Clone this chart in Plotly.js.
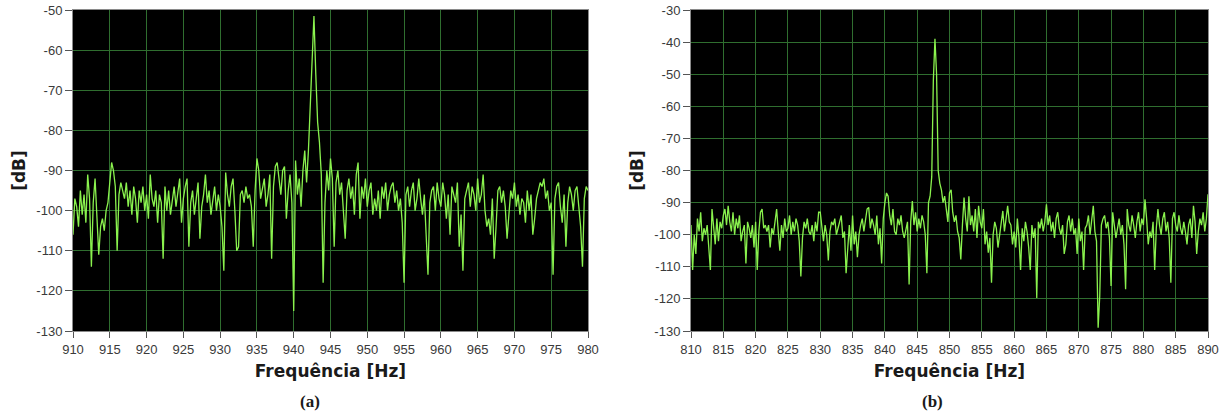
<!DOCTYPE html>
<html>
<head>
<meta charset="utf-8">
<script src="https://cdn.plot.ly/plotly-3.0.1.min.js"></script>
<style>
html,body{margin:0;padding:0;background:#fff;}
#chart{width:1224px;height:416px;}
</style>
</head>
<body>
<div id="chart"></div>
<script>
// Spectrum (a): 910 Hz .. 980 Hz, 0.25 Hz step
const freqStartA = 910;
const freqStepA = 0.25;
const dbA = [
  -106, -97, -99, -104,
  -95, -101, -96, -103,
  -91, -97, -114, -98,
  -92, -101, -111, -104,
  -102, -105, -100, -98,
  -93, -88, -90, -94,
  -110, -96, -93, -95,
  -97, -93, -99, -95,
  -101, -94, -97, -103,
  -95, -98, -94, -100,
  -96, -102, -91, -97,
  -99, -95, -103, -96,
  -98, -112, -94, -100,
  -95, -101, -97, -94,
  -99, -96, -92, -103,
  -97, -94, -92, -109,
  -98, -95, -101, -97,
  -93, -107, -99, -96,
  -91, -98, -95, -101,
  -97, -94, -100, -96,
  -99, -104, -115, -90.5,
  -96, -99, -94, -92,
  -100, -110, -109, -96,
  -95, -98, -94, -97,
  -96, -99, -109, -95,
  -87, -90, -97, -94,
  -92, -99, -96, -91,
  -112, -94, -89, -88,
  -93, -96, -90, -89,
  -102, -95, -91, -98,
  -125, -87.5, -96, -92,
  -99, -90, -85, -93,
  -85, -73, -59, -51.5,
  -66, -78, -83, -91,
  -118, -98, -90, -95,
  -87, -92, -109, -93,
  -90, -96, -93, -99,
  -107, -95, -92, -97,
  -94, -101, -91, -88,
  -102, -94, -97, -92,
  -99, -95, -93, -101,
  -97, -100, -95, -102,
  -94, -97, -93, -100,
  -96, -94, -93, -98,
  -95, -100, -97, -103,
  -118, -96, -94, -99,
  -95, -93, -100, -97,
  -92, -97, -101, -96,
  -108, -116, -98, -95,
  -94, -100, -93, -97,
  -99, -93, -96, -102,
  -96, -106, -94, -96,
  -98, -93, -109, -101,
  -115, -97, -95, -93,
  -99, -94, -96, -100,
  -92, -98, -96, -91,
  -100, -104, -102, -106,
  -97, -112, -104, -95,
  -94, -98, -95, -99,
  -107, -101, -95, -97,
  -93, -99, -96, -101,
  -97, -98, -103, -95,
  -100, -96, -106, -102,
  -97, -95, -93, -94,
  -92, -97, -95, -100,
  -98, -116, -97, -94,
  -93, -99, -103, -96,
  -109, -98, -94, -96,
  -100, -95, -94, -99,
  -104, -114, -97, -94,
  -95
];

// Spectrum (b): 810 Hz .. 890 Hz, 0.25 Hz step
const freqStartB = 810;
const freqStepB = 0.25;
const dbB = [
  -97, -111, -100, -106,
  -95, -99, -93, -102,
  -98, -100, -97, -104,
  -111, -92, -97, -103,
  -95, -102, -96, -98,
  -94, -92, -97, -91,
  -96, -99, -93, -100,
  -95, -98, -94, -102,
  -99, -97, -109, -96,
  -98, -101, -97, -104,
  -96, -111, -99, -93,
  -92, -98, -97, -99,
  -97, -104, -98, -100,
  -96, -92, -99, -105,
  -97, -101, -95, -99,
  -98, -94, -100, -96,
  -99, -95, -97, -102,
  -113, -101, -96, -98,
  -95, -99, -100, -97,
  -102, -96, -99, -93,
  -93, -98, -102, -97,
  -100, -108, -99, -96,
  -97, -95, -100, -98,
  -96, -94, -101, -99,
  -112, -103, -97, -105,
  -94, -103, -99, -107,
  -100, -97, -95, -99,
  -96, -92, -91.5, -98,
  -95, -97, -100, -94,
  -103, -98, -109, -95,
  -90, -87, -88, -94,
  -97, -92, -99, -100,
  -95, -97, -94, -99,
  -101, -98, -96, -115.5,
  -96, -89.5, -97, -93,
  -99, -95, -98, -94,
  -96, -100, -112, -90,
  -88, -82, -52, -39,
  -50, -80, -84, -86,
  -90, -88, -93, -96,
  -87, -86, -93, -96,
  -94, -99, -101, -107.7,
  -97, -88.4, -95, -99,
  -88, -97, -94, -99,
  -92, -101, -91, -96,
  -98, -92, -103, -99,
  -105.6, -101, -115, -100,
  -96, -98, -104, -100,
  -97, -92.6, -99, -94,
  -91, -96, -97, -103,
  -99, -104, -95, -101,
  -111, -98, -102, -96,
  -99, -104, -111, -97,
  -101, -98, -119.7, -96,
  -98, -95, -99, -96,
  -90.5, -97, -94, -99,
  -96, -101, -95, -93,
  -98, -100, -97, -106,
  -103, -96, -94, -99,
  -95, -100, -98, -106,
  -95, -102, -99, -111,
  -98, -97, -94, -100,
  -96, -91, -99, -102,
  -129, -119, -97, -95,
  -94, -98, -96, -101,
  -116, -93, -97, -101,
  -98, -95, -100, -97,
  -103, -117, -92, -97,
  -99, -94, -97, -101,
  -96, -93, -99, -95,
  -97, -89, -95, -103,
  -99, -101, -96, -111,
  -98, -92, -97, -100,
  -95, -93, -99, -96,
  -101, -115, -95, -93,
  -97, -99, -94, -98,
  -100, -96, -99, -103,
  -97, -95, -101, -91,
  -96, -106, -99, -95,
  -97, -93, -99, -95,
  -87.4
];

// Tick labels (hyphen-minus, as printed in the original)
const xTicksA = [910, 915, 920, 925, 930, 935, 940, 945, 950, 955, 960, 965, 970, 975, 980];
const xTicksB = [810, 815, 820, 825, 830, 835, 840, 845, 850, 855, 860, 865, 870, 875, 880, 885, 890];
const yTicksA = [-130, -120, -110, -100, -90, -80, -70, -60, -50];
const yTickTextA = ['-130', '-120', '-110', '-100', '-90', '-80', '-70', '-60', '-50'];
const yTicksB = [-130, -120, -110, -100, -90, -80, -70, -60, -50, -40, -30];
const yTickTextB = ['-130', '-120', '-110', '-100', '-90', '-80', '-70', '-60', '-50', '-40', '-30'];

const xTitle = 'Frequência [Hz]';
const yTitle = '[dB]';
const panelLabels = ['(a)', '(b)'];

const traceColor = '#8af24e';
const gridColor = '#2f6e2f';
const tickFont = {family: 'Liberation Sans, Arial, sans-serif', size: 13, color: '#3a3a3a'};
const titleFont = {family: 'DejaVu Sans, Verdana, sans-serif', size: 17, color: '#1a1a1a', weight: 'bold'};

const traces = [
  {x0: freqStartA, dx: freqStepA, y: dbA, type: 'scatter', mode: 'lines',
   line: {color: traceColor, width: 1.3}, xaxis: 'x', yaxis: 'y', hoverinfo: 'x+y'},
  {x0: freqStartB, dx: freqStepB, y: dbB, type: 'scatter', mode: 'lines',
   line: {color: traceColor, width: 1.3}, xaxis: 'x2', yaxis: 'y2', hoverinfo: 'x+y'}
];

function xAxis(domain, range, anchor, ticks) {
  return {
    domain: domain, range: range, anchor: anchor,
    tickmode: 'array', tickvals: ticks, ticktext: ticks.map(String),
    ticks: 'outside', ticklen: 6, tickcolor: '#555', tickwidth: 1,
    showgrid: true, gridcolor: gridColor, gridwidth: 1,
    showline: true, linecolor: '#8a8a8a', mirror: true, linewidth: 1,
    zeroline: false, tickfont: tickFont,
    title: {text: xTitle, font: titleFont, standoff: 9}
  };
}
function yAxis(domain, range, anchor, ticks, tickText) {
  return {
    domain: domain, range: range, anchor: anchor,
    tickmode: 'array', tickvals: ticks, ticktext: tickText,
    ticks: 'outside', ticklen: 7, tickcolor: '#555', tickwidth: 1,
    showgrid: true, gridcolor: gridColor, gridwidth: 1,
    showline: true, linecolor: '#8a8a8a', mirror: true, linewidth: 1,
    zeroline: false, tickfont: tickFont,
    title: {text: yTitle, font: titleFont, standoff: 6}
  };
}

const layout = {
  width: 1224, height: 416,
  margin: {l: 0, r: 0, t: 0, b: 0},
  paper_bgcolor: '#ffffff',
  plot_bgcolor: '#000000',
  showlegend: false,
  xaxis: xAxis([73/1224, 588/1224], [910, 980], 'y', xTicksA),
  yaxis: yAxis([85/416, 406/416], [-130, -50], 'x', yTicksA, yTickTextA),
  xaxis2: xAxis([691/1224, 1208/1224], [810, 890], 'y2', xTicksB),
  yaxis2: yAxis([85/416, 406/416], [-130, -30], 'x2', yTicksB, yTickTextB),
  annotations: [
    {text: panelLabels[0], xref: 'paper', yref: 'paper', x: 310/1224, y: 1 - 401/416,
     showarrow: false, xanchor: 'center', yanchor: 'middle',
     font: {family: 'Liberation Serif, Times New Roman, serif', size: 17, color: '#1a1a1a', weight: 'bold'}},
    {text: panelLabels[1], xref: 'paper', yref: 'paper', x: 932/1224, y: 1 - 401/416,
     showarrow: false, xanchor: 'center', yanchor: 'middle',
     font: {family: 'Liberation Serif, Times New Roman, serif', size: 17, color: '#1a1a1a', weight: 'bold'}}
  ]
};

Plotly.newPlot('chart', traces, layout, {displayModeBar: false, staticPlot: true});
</script>
</body>
</html>
